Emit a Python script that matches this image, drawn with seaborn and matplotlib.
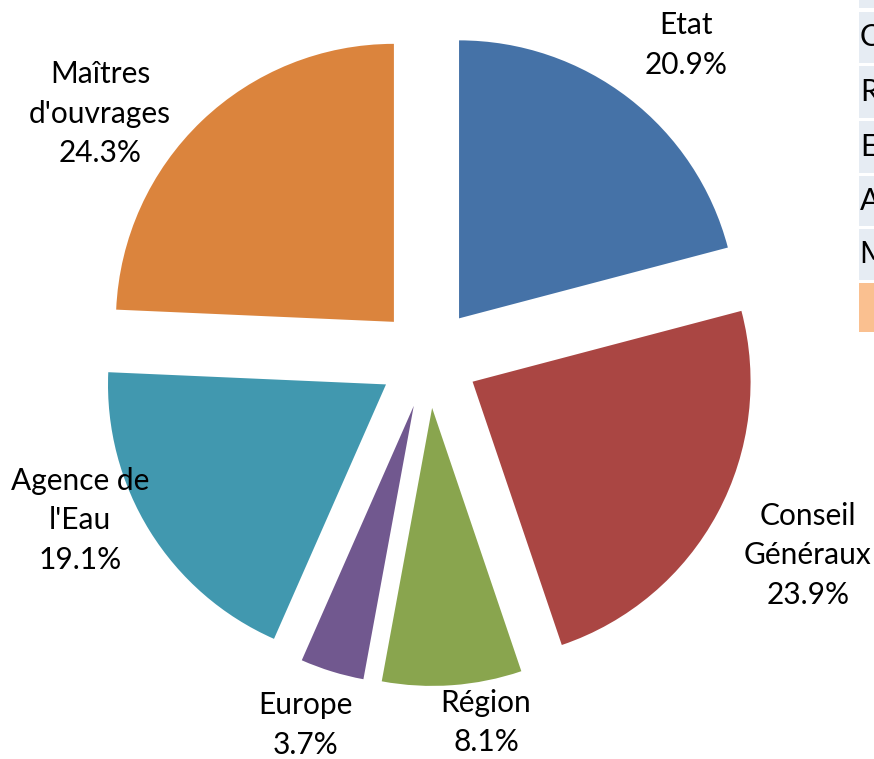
import matplotlib
matplotlib.use("Agg")
import matplotlib.pyplot as plt
import seaborn as sns
from matplotlib.patches import Rectangle

# ---- data ----
categories = ["Etat", "Conseil\nGénéraux", "Région", "Europe", "Agence de\nl'Eau", "Maîtres\nd'ouvrages"]
shares = [20.9, 23.9, 8.1, 3.7, 19.1, 24.3]
colors_hex = ["#4572A7", "#AA4643", "#89A54E", "#71588F", "#4198AF", "#DB843D"]

# cut-off table on the right edge
table_rows = ["Etat", "Conseil Généraux", "Région", "Europe", "Agence de l'Eau", "Maîtres d'ouvrages", ""]

# ---- label anchor positions (data units, pie radius = 1) ----
label_pos = [(0.926, 1.126), (1.365, -0.709), (0.207, -1.312), (-0.441, -1.320),
             (-1.254, -0.583), (-1.182, 0.878)]

sns.set_theme(style="white")
plt.rcParams["font.family"] = ["Lato", "DejaVu Sans"]

W, H = 874, 759
fig = plt.figure(figsize=(W / 100, H / 100), dpi=100)
ax = fig.add_axes([0, 0, 1, 1])

palette = sns.color_palette(colors_hex)
R_PX = 278.0
CX, CY = 428.5, 358.0
wedges, _ = ax.pie(shares, colors=palette, startangle=90, counterclock=False,
                   explode=[0.18] * len(shares), radius=1.0,
                   wedgeprops=dict(linewidth=0))

ax.set_xlim(-CX / R_PX, (W - CX) / R_PX)
ax.set_ylim(-(H - CY) / R_PX, CY / R_PX)
ax.set_aspect("equal")
ax.axis("off")

for cat, val, (x, y) in zip(categories, shares, label_pos):
    ax.text(x, y, f"{cat}\n{val:.1f}%", ha="center", va="center",
            fontsize=21.5, color="black", linespacing=1.5)

# right-edge table (clipped by the figure border, as in the reference)
row_bounds = [(-10, 8), (12, 63), (66, 118), (121, 173), (176, 226), (229, 280), (283, 332)]
for i, (name, (y0, y1)) in enumerate(zip(table_rows, row_bounds)):
    col = "#FAC090" if i == len(table_rows) - 1 else "#E6ECF3"
    fig.patches.append(Rectangle((859 / W, 1 - y1 / H), 40 / W, (y1 - y0) / H,
                                 transform=fig.transFigure, facecolor=col,
                                 edgecolor="none"))
    if name and i > 0:
        fig.text(860 / W, 1 - (y0 + y1) / 2 / H, name, ha="left", va="center",
                 fontsize=21.5, color="black")

fig.savefig("out.png", dpi=100)
